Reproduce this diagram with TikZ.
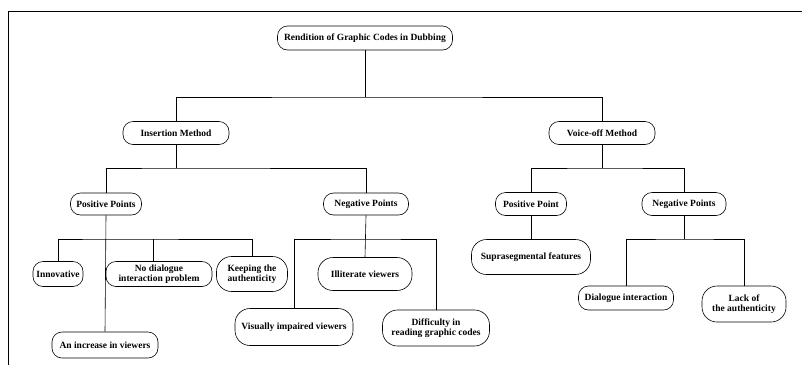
\documentclass[tikz,border=0pt]{standalone}
\usepackage{fontspec}
\setmainfont{Liberation Serif}
\begin{document}
\begin{tikzpicture}[x=1pt, y=-1pt, every node/.style={font=\bfseries\fontsize{9.5}{10.5}\selectfont},
  pill/.style={draw, line width=0.6pt, rounded corners=10pt, inner xsep=2pt, inner ysep=1pt, align=center},
  tall/.style={pill, rounded corners=15pt},
  link/.style={line width=0.6pt}]
  \useasboundingbox (0,0) rectangle (802,365);
  \draw[line width=0.8pt] (8,365) -- (8,11) -- (802,11);
  % top levels
  \node[pill, minimum width=175pt, minimum height=24pt] (root) at (365,38) {Rendition of Graphic Codes in Dubbing};
  \node[pill, minimum width=106pt, minimum height=23pt] (ins) at (176,133) {Insertion Method};
  \node[pill, minimum width=106pt, minimum height=23pt] (voc) at (602,133) {Voice-off Method};
  \node[pill, minimum width=71pt, minimum height=22pt] (pp) at (106,204) {Positive Points};
  \node[pill, minimum width=85pt, minimum height=22pt] (neg) at (366,204) {Negative Points};
  \node[pill, minimum width=71pt, minimum height=23pt] (pos2) at (531,204) {Positive Point};
  \node[pill, minimum width=84pt, minimum height=23pt] (neg2) at (684,204) {Negative Points};
  % leaves
  \node[pill, minimum width=50pt, minimum height=25pt] (inn) at (58,274) {Innovative};
  \node[pill, minimum width=106pt, minimum height=25pt] (nod) at (159,274) {No dialogue\\interaction problem};
  \node[tall, minimum width=71pt, minimum height=35pt] (kee) at (252,274) {Keeping the\\authenticity};
  \node[pill, minimum width=106pt, minimum height=26pt] (inc) at (105,345) {An increase in viewers};
  \node[tall, minimum width=94pt, minimum height=33pt] (ill) at (365,274) {Illiterate viewers};
  \node[tall, minimum width=118pt, minimum height=37pt] (vis) at (294,327) {Visually impaired viewers};
  \node[tall, minimum width=107pt, minimum height=36pt] (dif) at (436,328) {Difficulty in\\reading graphic codes};
  \node[tall, minimum width=119pt, minimum height=35pt] (sup) at (531,257) {Suprasegmental features};
  \node[pill, minimum width=95pt, minimum height=24pt] (dia) at (626,298) {Dialogue interaction};
  \node[tall, minimum width=84pt, minimum height=36pt] (lac) at (744,304) {Lack of\\the authenticity};
  % bus points
  \coordinate (b0) at (365,97);
  \coordinate (b1) at (176,168);
  \coordinate (b2) at (602,168);
  \coordinate (b3) at (106,239);
  \coordinate (b4) at (366,239);
  \coordinate (b5) at (684,239);
  \draw[link] (root.south) -- (b0);
  \draw[link] (ins.north) |- (b0) -| (voc.north);
  \draw[link] (ins.south) -- (b1);
  \draw[link] (pp.north) |- (b1) -| (neg.north);
  \draw[link] (voc.south) -- (b2);
  \draw[link] (pos2.north) |- (b2) -| (neg2.north);
  \draw[link] (pp.south) -- (inc.north);
  \draw[link] (inn.north) |- (b3) -| (kee.north);
  \draw[link] ([xshift=-6pt]nod.north) -- ([xshift=-6pt]nod.north |- b3);
  \draw[link] (neg.south) -- (ill.north);
  \draw[link] (vis.north) |- (b4) -| (dif.north);
  \draw[link] (pos2.south) -- (sup.north);
  \draw[link] (neg2.south) -- (b5);
  \draw[link] (dia.north) |- (b5) -| (lac.north);
\end{tikzpicture}
\end{document}
